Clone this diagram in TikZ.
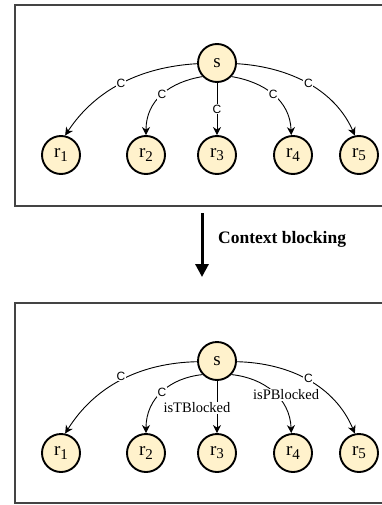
\documentclass[tikz,border=0pt]{standalone}
\usepackage{fontspec}
\setmainfont{Liberation Serif}
\setsansfont{Liberation Sans}
\usetikzlibrary{arrows.meta}
\definecolor{nodefill}{HTML}{FFF2CC}
\definecolor{framegray}{HTML}{444444}
% node subscript: slightly smaller and lowered
\newcommand{\rsub}[1]{\raisebox{-0.35ex}{\fontsize{15}{15}\selectfont #1}}
\begin{document}
\begin{tikzpicture}[x=1pt,y=-1pt,
  res/.style={circle, draw=black, line width=1.9pt, fill=nodefill,
    minimum size=38pt, inner sep=0pt, font=\fontsize{19}{19}\selectfont},
  rel/.style={draw=black, line width=0.9pt,
    -{Stealth[length=8pt,width=8pt,inset=2.5pt]}},
  clab/.style={fill=white, inner sep=0.8pt, font=\sffamily\fontsize{12}{12}\selectfont},
  blab/.style={fill=white, inner sep=1pt, font=\fontsize{14.5}{14.5}\selectfont},
  panel/.style={draw=framegray, line width=2pt}]
\useasboundingbox (0,0) rectangle (382,505);
\clip (0,0) rectangle (382,505);

% ---------- upper panel: all relations labelled C ----------
\draw[panel] (15,5) rectangle (395,206);
\node[res] (sA)  at (217,63)  {s};
\node[res] (r1A) at (61,155)  {r\rsub{1}};
\node[res] (r2A) at (146,155) {r\rsub{2}};
\node[res] (r3A) at (217,155) {r\rsub{3}};
\node[res] (r4A) at (293,155) {r\rsub{4}};
\node[res] (r5A) at (359,155) {r\rsub{5}};

\draw[rel] (sA.182) .. controls (140,67) and (95,90) .. (r1A.78)
  node[clab, pos=0.5] {C};
\draw[rel] (sA.223) .. controls (170,82) and (146,100) .. (r2A.north)
  node[clab, pos=0.5] {C};
\draw[rel] (sA.south) -- (r3A.north) node[clab, midway] {C};
\draw[rel] (sA.317) .. controls (264,82) and (290,100) .. (r4A.95)
  node[clab, pos=0.5] {C};
\draw[rel] (sA.358) .. controls (290,67) and (335,90) .. (r5A.102)
  node[clab, pos=0.5] {C};

% ---------- transition ----------
\coordinate (flowTop) at (202,213);
\coordinate (flowEnd) at (202,277);
\draw[line width=3pt, -{Triangle[length=13pt,width=13pt]}] (flowTop) -- (flowEnd);
\node[anchor=west, inner sep=0pt, font=\bfseries\fontsize{17.5}{17.5}\selectfont]
  (ctx) at (218,239) {Context blocking};

% ---------- lower panel: blocked relations ----------
\draw[panel] (15,303) rectangle (395,503);
\node[res] (sB)  at (217,361) {s};
\node[res] (r1B) at (61,453)  {r\rsub{1}};
\node[res] (r2B) at (146,453) {r\rsub{2}};
\node[res] (r3B) at (217,453) {r\rsub{3}};
\node[res] (r4B) at (293,453) {r\rsub{4}};
\node[res] (r5B) at (359,453) {r\rsub{5}};

\draw[rel] (sB.182) .. controls (140,363) and (95,386) .. (r1B.78)
  node[clab, pos=0.5, yshift=4pt] {C};
\draw[rel] (sB.223) .. controls (170,378) and (146,398) .. (r2B.north)
  node[clab, pos=0.5] {C};
\draw[rel] (sB.south) -- (r3B.north)
  node[blab, midway, xshift=-20pt, yshift=-1pt] {isTBlocked};
\draw[rel] (sB.317) .. controls (264,378) and (290,398) .. (r4B.95)
  node[blab, pos=0.5, xshift=13pt, yshift=-3pt] {isPBlocked};
\draw[rel] (sB.358) .. controls (290,363) and (335,386) .. (r5B.102)
  node[clab, pos=0.5, yshift=2pt] {C};
\end{tikzpicture}
\end{document}
